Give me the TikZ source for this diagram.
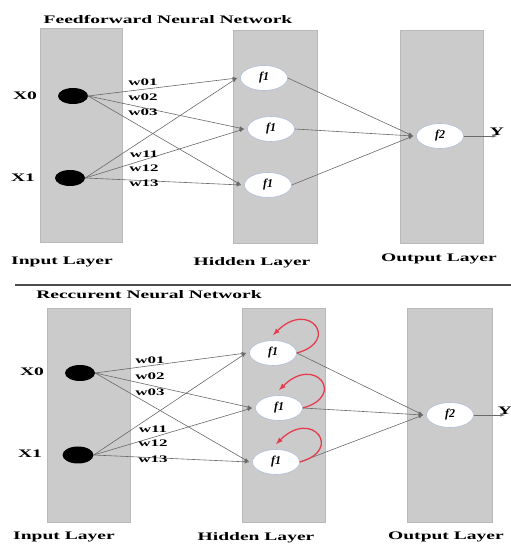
\documentclass[tikz,border=0pt]{standalone}
\usepackage{fontspec}
\setmainfont{Liberation Serif}[FakeStretch=1.7]
\newfontfamily\fnfont{Liberation Serif}
\usetikzlibrary{shapes.geometric}

\definecolor{layergray}{RGB}{203,203,203}
\definecolor{layeredge}{RGB}{185,185,185}
\definecolor{nodeedge}{RGB}{175,190,215}
\definecolor{linkgray}{RGB}{105,105,105}
\definecolor{loopred}{RGB}{228,62,78}

\tikzset{
	layer/.style = {fill = layergray, draw = layeredge, line width = 0.4pt},
	innode/.style = {ellipse, fill = black, minimum width = 30pt, minimum height = 16pt, inner sep = 0pt},
	fnode/.style = {ellipse, fill = white, draw = nodeedge, line width = 0.6pt, minimum width = 47pt, minimum height = 25pt, inner sep = 0pt, font = \fnfont\bfseries\itshape\fontsize{12}{12}\selectfont},
	wlabel/.style = {inner sep = 0pt, font = \bfseries\fontsize{10}{10}\selectfont},
	lbl/.style = {inner sep = 0pt, font = \bfseries\fontsize{11.5}{12}\selectfont},
	link/.style = {->, draw = linkgray, line width = 0.6pt},
	selfloop/.style = {->, draw = loopred, line width = 1.3pt}
}

\begin{document}
\begin{tikzpicture}[x = 1pt, y = 1pt, > = latex]

	\useasboundingbox (0, 0) rectangle (511, 544);

	% Feedforward network

	\node [lbl] (fftitle) at (168, 524) {Feedforward Neural Network};

	\filldraw [layer] (40, 302) rectangle (122, 516);
	\filldraw [layer] (233, 301) rectangle (317, 514);
	\filldraw [layer] (400, 301) rectangle (483, 514);

	\node [innode] (x0) at (73, 448) {};
	\node [innode] (x1) at (70, 366) {};
	\node [lbl] (x0lbl) at (25, 448) {X0};
	\node [lbl] (x1lbl) at (23, 366) {X1};

	\node [fnode] (h1) at (264, 466) {f1};
	\node [fnode] (h2) at (271, 415) {f1};
	\node [fnode] (h3) at (268, 359) {f1};
	\node [fnode] (o) at (440, 408) {f2};
	\coordinate (yout) at (497, 408);
	\node [lbl, above] (ylbl) at (yout) {Y};

	\begin{scope}[link]
		\foreach \i in {x0, x1}
			\foreach \j in {h1, h2, h3}
				\draw (\i.east) -- ([xshift = -3pt]\j.west);
		\foreach \j in {h1, h2, h3}
			\draw (\j.east) -- ([xshift = -3pt]o.west);
		\draw (o.east) -- (yout);
	\end{scope}

	\node [wlabel] (w01) at (143, 462) {w01};
	\node [wlabel] (w02) at (143, 447) {w02};
	\node [wlabel] (w03) at (143, 432) {w03};
	\node [wlabel] (w11) at (144, 390) {w11};
	\node [wlabel] (w12) at (144, 376) {w12};
	\node [wlabel] (w13) at (144, 361) {w13};

	\node [lbl] (ffin) at (62, 282) {Input Layer};
	\node [lbl] (ffhid) at (252, 281) {Hidden Layer};
	\node [lbl] (ffout) at (439, 285) {Output Layer};

	% Separator

	\draw [line width = 2pt, draw = black!70] (15, 259) -- (511, 259);

	% Recurrent network

	\node [lbl] (rtitle) at (149, 249) {Reccurent Neural Network};

	\filldraw [layer] (47, 22) rectangle (130, 236);
	\filldraw [layer] (242, 22) rectangle (325, 236);
	\filldraw [layer] (407, 22) rectangle (492, 236);

	\node [innode] (rx0) at (80, 171) {};
	\node [innode, minimum width = 31pt, minimum height = 17pt] (rx1) at (78, 89) {};
	\node [lbl] (rx0lbl) at (32, 172) {X0};
	\node [lbl] (rx1lbl) at (30, 90) {X1};

	\node [fnode] (rh1) at (273, 191) {f1};
	\node [fnode] (rh2) at (279, 136) {f1};
	\node [fnode] (rh3) at (276, 82) {f1};
	\node [fnode] (ro) at (450, 129) {f2};
	\coordinate (ryout) at (505, 129);
	\node [lbl, above] (rylbl) at (ryout) {Y};

	\begin{scope}[link]
		\foreach \i in {rx0, rx1}
			\foreach \j in {rh1, rh2, rh3}
				\draw (\i.east) -- ([xshift = -3pt]\j.west);
		\foreach \j in {rh1, rh2, rh3}
			\draw (\j.east) -- ([xshift = -3pt]ro.west);
		\draw (ro.east) -- (ryout);
	\end{scope}

	\foreach \j in {rh1, rh2, rh3}
		\draw [selfloop] (\j.east) .. controls +(44, 12) and +(36, 36) .. ([yshift = 5pt]\j.north);

	\node [wlabel] (rw01) at (150, 184) {w01};
	\node [wlabel] (rw02) at (150, 168) {w02};
	\node [wlabel] (rw03) at (150, 152) {w03};
	\node [wlabel] (rw11) at (153, 115) {w11};
	\node [wlabel] (rw12) at (153, 101) {w12};
	\node [wlabel] (rw13) at (153, 85) {w13};

	\node [lbl] (rin) at (64, 7) {Input Layer};
	\node [lbl] (rhid) at (256, 6) {Hidden Layer};
	\node [lbl] (rout) at (446, 7) {Output Layer};

\end{tikzpicture}
\end{document}
